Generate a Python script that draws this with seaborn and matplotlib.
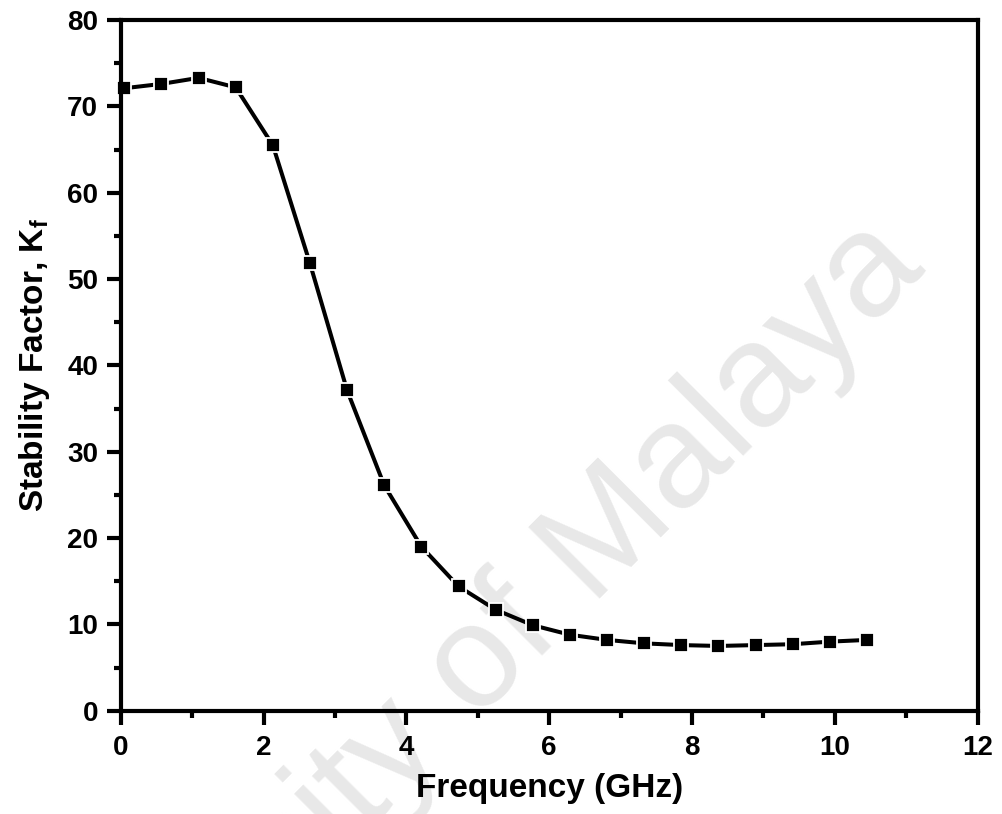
import numpy as np
import pandas as pd
import seaborn as sns
import matplotlib.pyplot as plt
from matplotlib.ticker import MultipleLocator

# values
freq_ghz = [0.05, 0.57, 1.09, 1.61, 2.13, 2.65, 3.17, 3.69, 4.21, 4.73, 5.25,
            5.77, 6.29, 6.81, 7.33, 7.85, 8.37, 8.89, 9.41, 9.93, 10.45]
stability = [72.1, 72.6, 73.3, 72.2, 65.5, 51.8, 37.1, 26.1, 19.0, 14.4, 11.7,
             9.9, 8.8, 8.2, 7.8, 7.6, 7.5, 7.6, 7.7, 8.0, 8.2]

x_ticks = [0, 2, 4, 6, 8, 10, 12]
y_ticks = [0, 10, 20, 30, 40, 50, 60, 70, 80]

df = pd.DataFrame({'freq': freq_ghz, 'kf': stability})

sns.set_style('ticks', {'text.color': 'black', 'axes.labelcolor': 'black',
                        'xtick.color': 'black', 'ytick.color': 'black',
                        'axes.edgecolor': 'black'})
plt.rcParams['font.family'] = ['Liberation Sans', 'DejaVu Sans']
plt.rcParams['font.weight'] = 'bold'
plt.rcParams['mathtext.fontset'] = 'custom'
plt.rcParams['mathtext.rm'] = 'Liberation Sans:bold'
plt.rcParams['mathtext.bf'] = 'Liberation Sans:bold'

fig = plt.figure(figsize=(10.02, 8.14), dpi=100)
ax = fig.add_axes([0.1205, 0.1269, 0.8552, 0.8485])
ax.patch.set_alpha(0)

# faint watermark behind the axes (runs off the lower edge, as in the source)
fig.text(0.458, 0.091, 'University of Malaya', rotation=45, rotation_mode='anchor',
         ha='center', va='baseline', fontsize=106, fontweight='normal',
         color='#e8e8e8', zorder=-1)

sns.lineplot(data=df, x='freq', y='kf', ax=ax, color='black', linewidth=2.9,
             marker='s', markersize=10.6, markerfacecolor='black',
             markeredgecolor='white', markeredgewidth=1.3, clip_on=False)

ax.set_xlim(0, 12)
ax.set_ylim(0, 80)
ax.set_xticks(x_ticks)
ax.set_yticks(y_ticks)
ax.xaxis.set_minor_locator(MultipleLocator(1))
ax.yaxis.set_minor_locator(MultipleLocator(5))

for side in ['left', 'right', 'top', 'bottom']:
    ax.spines[side].set_visible(True)
    ax.spines[side].set_linewidth(3)
    ax.spines[side].set_color('black')

ax.tick_params(which='major', direction='out', length=10.3, width=3,
               labelsize=20, top=False, right=False, color='black',
               labelcolor='black')
ax.tick_params(which='minor', direction='out', length=5.3, width=3,
               top=False, right=False, color='black')
ax.tick_params(axis='x', which='major', pad=7)
ax.tick_params(axis='y', which='major', pad=6)
for lbl in ax.get_xticklabels() + ax.get_yticklabels():
    lbl.set_fontweight('bold')

ax.set_xlabel('Frequency (GHz)', fontsize=24, fontweight='bold', labelpad=9)
ax.set_ylabel(r'Stability Factor, K$_\mathregular{f}$', fontsize=24,
              fontweight='bold', labelpad=11)

fig.savefig('out.png', dpi=100)
